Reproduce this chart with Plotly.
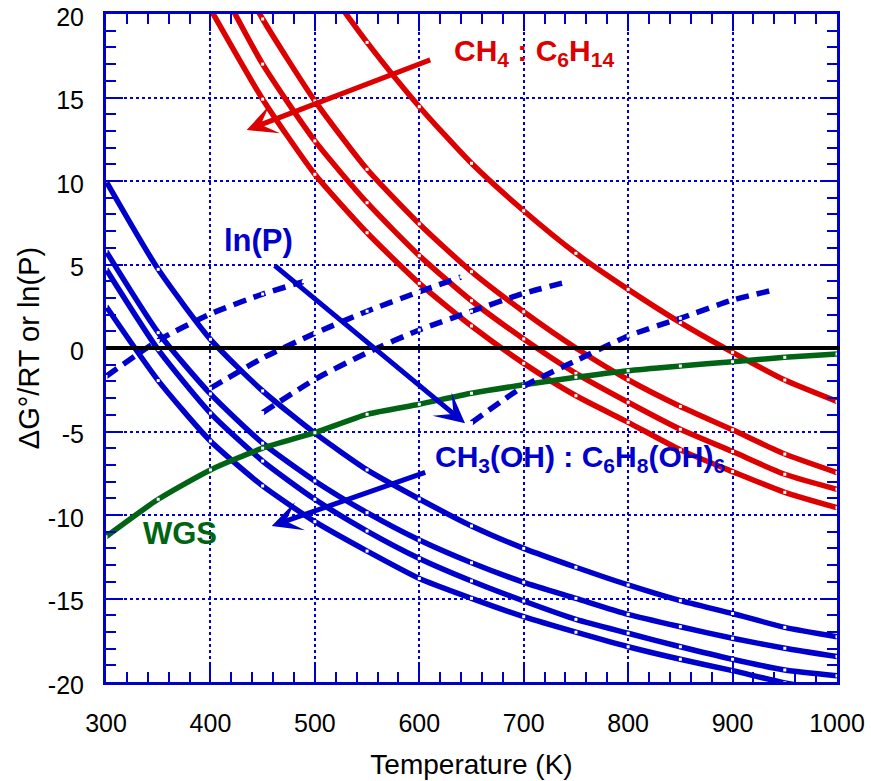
import plotly.graph_objects as go

# ---------------- data ----------------
T_red = [400, 450, 500, 550, 600, 650, 700, 750, 800, 850, 900, 950, 1000]
red_a = [20.3, 14.9, 10.4, 6.9, 3.87, 1.32, -0.92, -2.86, -4.45, -6.1, -7.4, -8.64, -9.56]
red_b = [22.8, 17.0, 12.4, 8.7, 5.53, 2.83, 0.54, -1.52, -3.25, -4.87, -6.2, -7.56, -8.46]
red_c = [25.5, 19.7, 14.8, 10.7, 7.43, 4.57, 2.17, 0.0, -1.9, -3.5, -4.9, -6.35, -7.46]
T_red_d = [500, 550, 600, 650, 700, 750, 800, 850, 900, 950, 1000]
red_d = [22.6, 18.3, 14.45, 11.06, 8.22, 5.67, 3.51, 1.52, -0.26, -1.92, -3.2]

T_blue = [300, 350, 400, 450, 500, 550, 600, 650, 700, 750, 800, 850, 900, 950, 1000]
blue_1 = [10.0, 4.71, 0.52, -2.57, -5.1, -7.3, -9.04, -10.66, -12.0, -13.13, -14.19, -15.13, -15.9, -16.73, -17.29]
blue_2 = [5.8, 0.92, -2.75, -5.7, -7.96, -9.86, -11.5, -12.86, -14.03, -14.99, -15.95, -16.69, -17.38, -17.98, -18.48]
blue_3 = [4.73, -0.1, -3.9, -6.77, -9.06, -10.96, -12.6, -13.95, -15.15, -16.25, -17.08, -17.89, -18.64, -19.28, -19.62]
blue_4 = [2.5, -1.95, -5.57, -8.26, -10.4, -12.16, -13.8, -14.99, -16.09, -17.02, -17.89, -18.64, -19.32, -20.05, -20.6]

T_lnp_1 = [300, 350, 400, 450, 489]
lnp_1 = [-1.7, 0.45, 2.04, 3.23, 3.97]
T_lnp_2 = [400, 450, 500, 550, 600, 640]
lnp_2 = [-2.41, -0.6, 0.88, 2.2, 3.37, 4.25]
T_lnp_3 = [450, 500, 550, 600, 650, 700, 738]
lnp_3 = [-3.87, -1.88, -0.28, 1.08, 2.2, 3.27, 3.9]
T_lnp_4 = [650, 700, 750, 800, 850, 900, 939]
lnp_4 = [-4.47, -2.3, -0.76, 0.72, 1.78, 2.87, 3.47]

T_wgs = [300, 350, 400, 450, 500, 550, 600, 650, 700, 750, 800, 850, 900, 950, 1000]
wgs = [-11.3, -9.06, -7.3, -6.0, -5.07, -3.97, -3.37, -2.71, -2.2, -1.75, -1.36, -1.08, -0.82, -0.56, -0.36]

x_ticks = [300, 400, 500, 600, 700, 800, 900, 1000]
y_ticks = [-20, -15, -10, -5, 0, 5, 10, 15, 20]

# ---------------- style ----------------
RED = "#DD0000"
BLUE = "#0000CC"
GREEN = "#006414"
FONT = "Liberation Sans, Arial, sans-serif"

fig = go.Figure()

def add_curve(x, y, color, dash="solid"):
    fig.add_trace(go.Scatter(
        x=x, y=y, mode="lines+markers",
        line=dict(color=color, width=5.5, dash=dash, shape="spline", smoothing=0.6),
        marker=dict(symbol="square", size=3, color="white", line=dict(width=0)),
        showlegend=False, hoverinfo="skip",
    ))

for ys in (red_a, red_b, red_c):
    add_curve(T_red, ys, RED)
add_curve(T_red_d, red_d, RED)
for ys in (blue_1, blue_2, blue_3, blue_4):
    add_curve(T_blue, ys, BLUE)
add_curve(T_wgs, wgs, GREEN)
for tx, ys in ((T_lnp_1, lnp_1), (T_lnp_2, lnp_2), (T_lnp_3, lnp_3), (T_lnp_4, lnp_4)):
    add_curve(tx, ys, BLUE, dash="13px,8px")

axis_common = dict(
    showline=True, linecolor=BLUE, linewidth=3, mirror="ticks",
    ticks="inside", ticklen=17, tickwidth=2, tickcolor=BLUE,
    showgrid=True, gridcolor=BLUE, gridwidth=1.5, griddash="dot",
    tickfont=dict(family=FONT, size=25, color="black"),
    automargin=False, ticklabeloverflow="allow", zeroline=False,
)

fig.update_layout(
    width=871, height=781,
    margin=dict(l=106, r=34, t=14, b=99),
    paper_bgcolor="white", plot_bgcolor="white",
    font=dict(family=FONT, color="black"),
    xaxis=dict(
        range=[300, 1000], tickvals=x_ticks, ticktext=[str(v) for v in x_ticks],
        ticklabelstandoff=17,
        minor=dict(ticks="inside", dtick=20, tick0=300, ticklen=10, tickwidth=2,
                   tickcolor=BLUE, showgrid=False),
        title=dict(text="Temperature (K)", font=dict(family=FONT, size=28, color="black"), standoff=19),
        **axis_common,
    ),
    yaxis=dict(
        range=[-20, 20], tickvals=y_ticks, ticktext=[str(v) for v in y_ticks],
        ticklabelstandoff=14, ticklabelshift=3,
        minor=dict(ticks="inside", dtick=1, tick0=0, ticklen=10, tickwidth=2,
                   tickcolor=BLUE, showgrid=False),
        title=dict(text="ΔG°/RT or ln(P)", font=dict(family=FONT, size=29, color="black"), standoff=0),
        **axis_common,
    ),
)

# black reference line at zero, drawn above the curves
fig.add_shape(type="line", xref="paper", x0=0, x1=1.004, yref="y", y0=0, y1=0,
              line=dict(color="black", width=4), layer="above")

# labels
fig.add_annotation(x=631.3, y=17.7, xref="x", yref="y", xanchor="left", yanchor="middle",
                   text="<b>CH<sub>4</sub> : C<sub>6</sub>H<sub>14</sub></b>",
                   showarrow=False, font=dict(family=FONT, size=30, color=RED))
fig.add_annotation(x=446.5, y=6.42, xref="x", yref="y", xanchor="center", yanchor="middle",
                   text="<b>ln(P)</b>", showarrow=False, font=dict(family=FONT, size=31, color=BLUE))
fig.add_annotation(x=613.4, y=-6.6, xref="x", yref="y", xanchor="left", yanchor="middle",
                   text="<b>CH<sub>3</sub>(OH) : C<sub>6</sub>H<sub>8</sub>(OH)<sub>6</sub></b>",
                   showarrow=False, font=dict(family=FONT, size=30, color=BLUE))
fig.add_annotation(x=370.9, y=-11.1, xref="x", yref="y", xanchor="center", yanchor="middle",
                   text="<b>WGS</b>", showarrow=False, font=dict(family=FONT, size=31, color=GREEN))

# arrows
def arrow(tip_x, tip_y, tail_x, tail_y, color):
    fig.add_annotation(x=tip_x, y=tip_y, ax=tail_x, ay=tail_y, xref="x", yref="y",
                       axref="x", ayref="y", text="", showarrow=True,
                       arrowhead=3, arrowsize=1, arrowwidth=5, arrowcolor=color,
                       standoff=0, startstandoff=0)

arrow(434.7, 13.05, 611.9, 17.29, RED)
arrow(643.8, -4.51, 460.2, 5.01, BLUE)
arrow(458.7, -10.66, 607.1, -7.41, BLUE)

# remove the default page margin so the figure fills the window exactly
fig.write_html("out.html", config={"displayModeBar": False},
               post_script="document.body.style.margin='0';")
